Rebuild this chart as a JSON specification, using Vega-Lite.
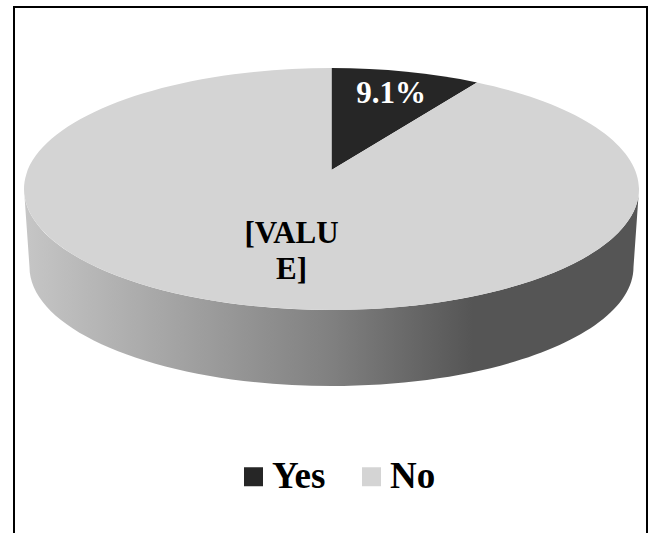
{
  "$schema": "https://vega.github.io/schema/vega-lite/v6.json",
  "width": 655,
  "height": 533,
  "padding": 0,
  "autosize": "none",
  "background": "white",
  "view": {"stroke": null},
  "config": {"font": "Liberation Serif"},
  "data": {"values": [
    {"category": "Yes", "value": 9.1, "label": "9.1%"},
    {"category": "No", "value": 90.9, "label": "[VALU\nE]"}
  ]},
  "layer": [
    {
      "transform": [{"filter": "datum.category === 'No'"}],
      "mark": {
        "type": "point", "filled": true, "size": 4, "opacity": 1, "strokeWidth": 0,
        "shape": "M-307.5,0 A307.5,121 0 0 0 307.5,0 L302,78 A302,119 0 0 1 -302,78 Z",
        "fill": {"x1": 0, "x2": 1, "y1": 0, "y2": 0, "gradient": "linear", "stops": [
          {"offset": 0, "color": "#c6c6c6"},
          {"offset": 0.5, "color": "#808080"},
          {"offset": 0.73, "color": "#555555"},
          {"offset": 1, "color": "#555555"}
        ]}
      },
      "encoding": {
        "x": {"datum": 331.5, "type": "quantitative", "scale": {"domain": [0, 655]}, "axis": null},
        "y": {"datum": 189, "type": "quantitative", "scale": {"domain": [533, 0]}, "axis": null}
      }
    },
    {
      "mark": {"type": "point", "filled": true, "size": 4, "opacity": 1, "strokeWidth": 0},
      "encoding": {
        "x": {"datum": 331.5, "type": "quantitative", "scale": {"domain": [0, 655]}, "axis": null},
        "y": {"datum": 189, "type": "quantitative", "scale": {"domain": [533, 0]}, "axis": null},
        "shape": {
          "field": "label", "type": "nominal", "legend": null,
          "scale": {"domain": ["9.1%", "[VALU\nE]"], "range": [
            "M0,-19 L0,-121 A307.5,121 0 0 1 145.5,-106.6 Z",
            "M0,-19 L145.5,-106.6 A307.5,121 0 1 1 0,-121 Z"
          ]}
        },
        "color": {
          "field": "category", "type": "nominal",
          "scale": {"domain": ["Yes", "No"], "range": ["#262626", "#d4d4d4"]},
          "legend": {
            "title": null, "orient": "none", "legendX": 235, "legendY": 458,
            "direction": "horizontal", "columns": 2, "padding": 0,
            "symbolType": "square", "symbolSize": 361, "symbolStrokeWidth": 0,
            "labelFont": "Liberation Serif", "labelFontSize": 37, "labelFontWeight": "bold",
            "labelColor": "#000000", "labelOffset": 0, "columnPadding": 27, "labelLimit": 200
          }
        }
      }
    },
    {
      "transform": [{"filter": "datum.category === 'Yes'"}],
      "mark": {"type": "text", "font": "Liberation Serif", "fontSize": 31, "fontWeight": "bold", "color": "#ffffff", "align": "center", "baseline": "alphabetic"},
      "encoding": {
        "x": {"datum": 391, "type": "quantitative", "scale": {"domain": [0, 655]}, "axis": null},
        "y": {"datum": 103, "type": "quantitative", "scale": {"domain": [533, 0]}, "axis": null},
        "text": {"field": "label"}
      }
    },
    {
      "transform": [{"filter": "datum.category === 'No'"}],
      "mark": {"type": "text", "font": "Liberation Serif", "fontSize": 31, "fontWeight": "bold", "color": "#000000", "align": "center", "baseline": "alphabetic", "lineBreak": "\n", "lineHeight": 36},
      "encoding": {
        "x": {"datum": 291.5, "type": "quantitative", "scale": {"domain": [0, 655]}, "axis": null},
        "y": {"datum": 243, "type": "quantitative", "scale": {"domain": [533, 0]}, "axis": null},
        "text": {"field": "label"}
      }
    },
    {
      "transform": [{"filter": "datum.category === 'Yes'"}],
      "mark": {"type": "rule", "color": "#000000", "strokeWidth": 2},
      "encoding": {
        "x": {"datum": 14, "type": "quantitative", "scale": {"domain": [0, 655]}, "axis": null},
        "y": {"datum": 6, "type": "quantitative", "scale": {"domain": [533, 0]}, "axis": null},
        "y2": {"datum": 533}
      }
    },
    {
      "transform": [{"filter": "datum.category === 'Yes'"}],
      "mark": {"type": "rule", "color": "#000000", "strokeWidth": 2},
      "encoding": {
        "x": {"datum": 647, "type": "quantitative", "scale": {"domain": [0, 655]}, "axis": null},
        "y": {"datum": 6, "type": "quantitative", "scale": {"domain": [533, 0]}, "axis": null},
        "y2": {"datum": 533}
      }
    },
    {
      "transform": [{"filter": "datum.category === 'Yes'"}],
      "mark": {"type": "rule", "color": "#000000", "strokeWidth": 2},
      "encoding": {
        "x": {"datum": 13, "type": "quantitative", "scale": {"domain": [0, 655]}, "axis": null},
        "x2": {"datum": 648},
        "y": {"datum": 7, "type": "quantitative", "scale": {"domain": [533, 0]}, "axis": null}
      }
    }
  ]
}
